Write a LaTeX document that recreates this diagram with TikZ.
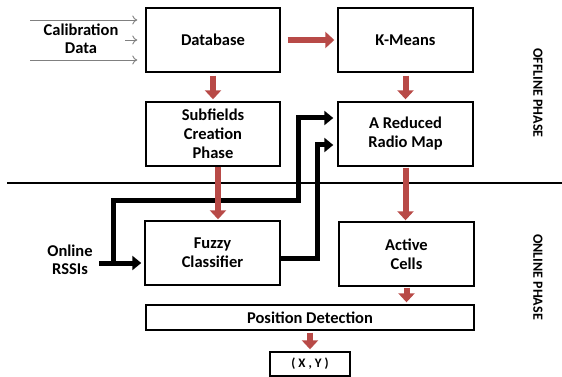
\documentclass[tikz,border=0pt]{standalone}
\usepackage{fontspec}
\setmainfont{Carlito}
\usetikzlibrary{arrows.meta}
\definecolor{redarrow}{RGB}{184,74,71}
\definecolor{calgray}{RGB}{128,128,128}
\begin{document}
\begin{tikzpicture}[x=1pt,y=-1pt,
  blk/.style={draw, line width=1.4pt, minimum width=134pt, minimum height=64pt, inner sep=0pt, align=center, font=\fontsize{16.5}{19}\selectfont\bfseries},
  lbl/.style={align=center, inner sep=0pt, font=\fontsize{16.5}{18}\selectfont\bfseries},
  redarr/.style={draw=redarrow, line width=6pt, -{Triangle[width=16pt,length=9pt]}},
  blkarr/.style={line width=5pt, line join=miter, -{Triangle[width=14pt,length=9pt]}},
  calarr/.style={draw=calgray, line width=0.9pt, -{To[length=5pt,width=9pt]}},
  phase/.style={rotate=-90, inner sep=0pt, font=\fontsize{14}{16}\selectfont\bfseries}
]
\useasboundingbox (0,0) rectangle (562,377);

% boxes
\node[blk] (db) at (213,40) {Database};
\node[blk, minimum width=135pt] (km) at (405.5,40) {K-Means};
\node[blk] (sub) at (213,134) {Subfields\\Creation\\Phase};
\node[blk, minimum width=135pt] (red) at (405.5,134) {A Reduced\\Radio Map};
\node[blk, minimum width=135pt] (fuzzy) at (212.5,253) {Fuzzy\\Classifier};
\node[blk, minimum width=135pt] (active) at (406.5,254) {Active\\Cells};
\node[blk, minimum width=328pt, minimum height=25pt] (pos) at (310,317.5) {Position Detection};
\node[blk, minimum width=80pt, minimum height=24pt, font=\fontsize{13}{15}\selectfont\bfseries] (xy) at (310,364) {( X , Y )};

% labels
\node[lbl] (cal) at (81,39) {Calibration\\Data};
\node[lbl] (rssi) at (70,260) {Online\\RSSIs};
\node[phase] (off) at (538,93) {OFFLINE PHASE};
\node[phase] (on) at (538,277) {ONLINE PHASE};

% separator
\coordinate (hl) at (7,183);
\coordinate (hr) at (562,183);
\draw[line width=1.4pt] (hl) -- (hr);

% calibration inputs
\coordinate (c1) at (30,20);
\coordinate (c2) at (125,40);
\coordinate (c3) at (30,60);
\draw[calarr, shorten >=8pt] (c1) -- (c1 -| db.west);
\draw[calarr, shorten >=8pt] (c2) -- (c2 -| db.west);
\draw[calarr, shorten >=8pt] (c3) -- (c3 -| db.west);

% black online paths
\coordinate (rs) at (99,263);
\coordinate (br) at (113,263);
\coordinate (k1) at (113,200);
\coordinate (k2) at (298,200);
\coordinate (k3) at (298,118);
\coordinate (k4) at (317,258);
\coordinate (k5) at (317,145);
\draw[blkarr, shorten >=3pt] (rs) -- (rs -| fuzzy.west);
\draw[blkarr, shorten >=4pt] (br) -- (k1) -- (k2) -- (k3) -- (k3 -| red.west);
\draw[blkarr, shorten >=4pt] (k4 -| fuzzy.east) -- (k4) -- (k5) -- (k5 -| red.west);

% red arrows
\draw[redarr, shorten <=3pt, shorten >=2pt] (db.south) -- (sub.north);
\draw[redarr, shorten <=7pt, shorten >=3pt] (db.east) -- (km.west);
\draw[redarr, shorten <=3pt, shorten >=2pt] (km.south) -- (red.south |- red.north);
\draw[redarr, shorten >=1pt] ([xshift=5pt]sub.south) -- ([xshift=5pt]sub.south |- fuzzy.north);
\draw[redarr, shorten <=1pt, shorten >=1pt] (red.south) -- (red.south |- active.north);
\draw[redarr, shorten <=1pt, shorten >=2pt] (active.south) -- (active.south |- pos.north);
\draw[redarr, shorten <=2pt, shorten >=2pt] (pos.south -| xy.north) -- (xy.north);
\end{tikzpicture}
\end{document}
